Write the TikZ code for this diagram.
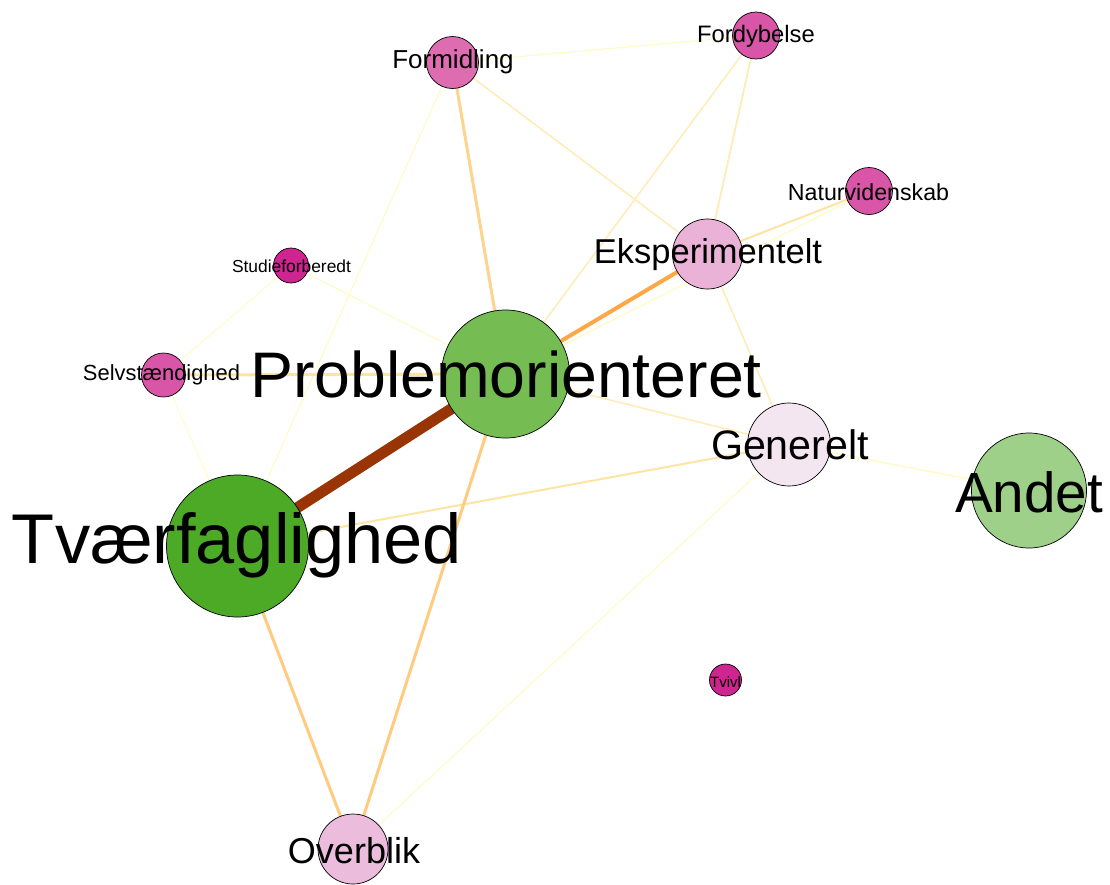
\documentclass[tikz,border=0pt]{standalone}
\usepackage{fontspec}
\setmainfont{Liberation Sans}
\pgfdeclarelayer{background}
\pgfsetlayers{background,main}
\definecolor{cMag}{HTML}{CE2590}
\definecolor{cPinkA}{HTML}{DE6CB0}
\definecolor{cPinkB}{HTML}{D855A8}
\definecolor{cPinkC}{HTML}{EBB2D7}
\definecolor{cPinkD}{HTML}{EBBCDC}
\definecolor{cPinkE}{HTML}{F3E6F0}
\definecolor{cGreenA}{HTML}{4DAA27}
\definecolor{cGreenB}{HTML}{75BD53}
\definecolor{cGreenC}{HTML}{9FD08A}
\definecolor{eBrown}{HTML}{993404}
\definecolor{eOrange}{HTML}{FDA847}
\definecolor{eOrL}{HTML}{FECB80}
\definecolor{eOrM}{HTML}{FED48C}
\definecolor{eYelA}{HTML}{FEE4A2}
\definecolor{eYelB}{HTML}{FFEBB5}
\definecolor{eYelC}{HTML}{FFFBC8}
\begin{document}
\begin{tikzpicture}[x=1pt,y=-1pt,
  vnode/.style={circle,draw=black,line width=0.7pt,inner sep=0pt,minimum size=#1},
  lbl/.style={anchor=base,inner sep=0pt,text=black},
  edge/.style={line width=#1}]
\useasboundingbox (0,0) rectangle (1110,884);
% nodes (circles)
\node[vnode=52pt,fill=cPinkA] (form) at (452.5,62.5) {};
\node[vnode=47pt,fill=cPinkB] (ford) at (756,35.5) {};
\node[vnode=47pt,fill=cPinkB] (nat) at (869,191) {};
\node[vnode=70pt,fill=cPinkC] (eksp) at (707.5,254) {};
\node[vnode=35pt,fill=cMag] (stud) at (291,265.5) {};
\node[vnode=44pt,fill=cPinkB] (selv) at (163.5,375) {};
\node[vnode=128pt,fill=cGreenB] (po) at (505.5,374) {};
\node[vnode=83pt,fill=cPinkE] (gen) at (789,444.5) {};
\node[vnode=115pt,fill=cGreenC] (andet) at (1029,490.5) {};
\node[vnode=142pt,fill=cGreenA] (tf) at (237.5,546) {};
\node[vnode=32pt,fill=cMag] (tvivl) at (725.5,680) {};
\node[vnode=70pt,fill=cPinkD] (over) at (353,849) {};
% edges
\begin{pgfonlayer}{background}
\draw[edge=1.2pt,eYelC] (form.center) -- (ford.center);
\draw[edge=1.2pt,eYelC] (form.center) -- (tf.center);
\draw[edge=1pt,eYelC] (stud.center) -- (selv.center);
\draw[edge=1.2pt,eYelC] (stud.center) -- (po.center);
\draw[edge=1pt,eYelC] (selv.center) -- (tf.center);
\draw[edge=1.2pt,eYelC] (gen.center) -- (over.center);
\draw[edge=1.5pt,eYelC] (gen.center) -- (andet.center);
\draw[edge=1.3pt,eYelC] (po.center) -- (nat.center);
\draw[edge=1.5pt,eYelB] (form.center) -- (eksp.center);
\draw[edge=1.8pt,eYelB] (ford.center) -- (eksp.center);
\draw[edge=1.5pt,eYelB] (ford.center) -- (po.center);
\draw[edge=1.5pt,eYelB] (eksp.center) -- (gen.center);
\draw[edge=1.5pt,eYelB] (po.center) -- (gen.center);
\draw[edge=2pt,eYelA] (tf.center) -- (gen.center);
\draw[edge=2pt,eYelA] (eksp.center) -- (nat.center);
\draw[edge=3pt,eYelA] (selv.center) -- (po.center);
\draw[edge=3pt,eOrM] (form.center) -- (po.center);
\draw[edge=3pt,eOrL] (po.center) -- (over.center);
\draw[edge=3pt,eOrL] (tf.center) -- (over.center);
\draw[edge=4pt,eOrange] (po.center) -- (eksp.center);
\draw[edge=11pt,eBrown] (po.center) -- (tf.center);
\end{pgfonlayer}
% labels
\node[lbl,font=\fontsize{26}{26}\selectfont] (lform) at (453,68) {Formidling};
\node[lbl,font=\fontsize{23.8}{24}\selectfont] (lford) at (756,42) {Fordybelse};
\node[lbl,font=\fontsize{23.2}{24}\selectfont] (lnat) at (868.5,200) {Naturvidenskab};
\node[lbl,font=\fontsize{34.5}{35}\selectfont] (leksp) at (708,263) {Eksperimentelt};
\node[lbl,font=\fontsize{17.4}{18}\selectfont] (lstud) at (291.5,272) {Studieforberedt};
\node[lbl,font=\fontsize{21.9}{22}\selectfont] (lselv) at (161.5,380) {Selvstændighed};
\node[lbl,font=\fontsize{64.4}{65}\selectfont] (lpo) at (506,397) {Problemorienteret};
\node[lbl,font=\fontsize{41.2}{42}\selectfont] (lgen) at (790,459) {Generelt};
\node[lbl,font=\fontsize{56.6}{57}\selectfont] (landet) at (1029,512) {Andet};
\node[lbl,font=\fontsize{70.4}{71}\selectfont] (ltf) at (237,563) {Tværfaglighed};
\node[lbl,font=\fontsize{15}{15}\selectfont] (ltvivl) at (725.5,687) {Tvivl};
\node[lbl,font=\fontsize{36}{36}\selectfont] (lover) at (354,863) {Overblik};
\end{tikzpicture}
\end{document}
